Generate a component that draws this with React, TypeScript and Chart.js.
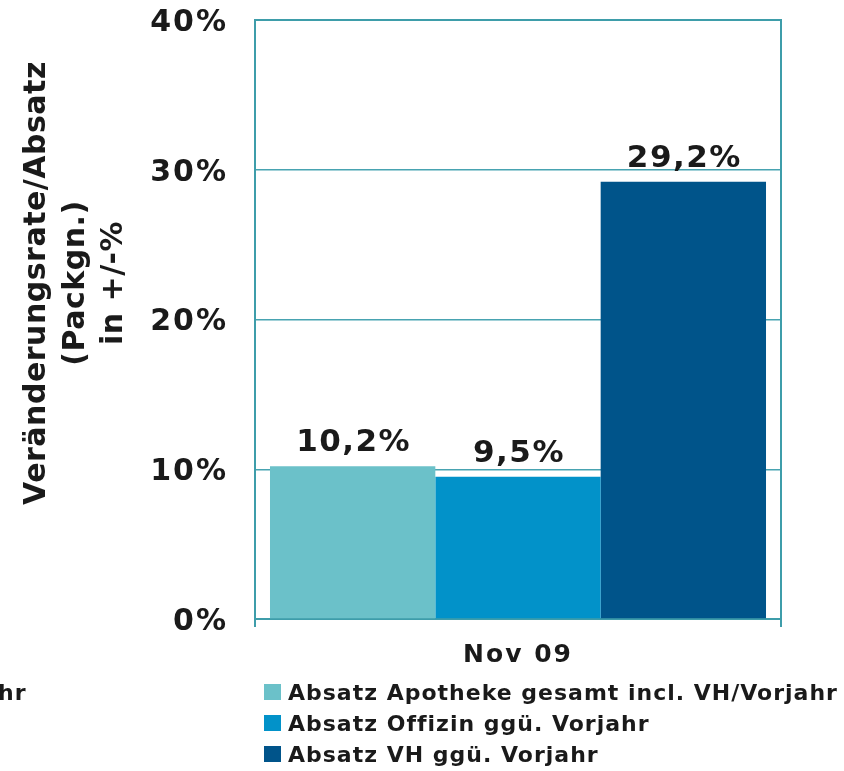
import React, { useEffect, useRef } from "react";
import { Chart, registerables } from "chart.js";

Chart.register(...registerables);

const categories = ["Nov 09"];
const seriesNames = [
  "Absatz Apotheke gesamt incl. VH/Vorjahr",
  "Absatz Offizin ggü. Vorjahr",
  "Absatz VH ggü. Vorjahr",
];
const seriesApotheke = [10.2];
const seriesOffizin = [9.5];
const seriesVH = [29.2];
const seriesColors = ["#6BC1C9", "#0292C9", "#00548A"];
const yTickValues = [0, 10, 20, 30, 40];
const yTitleLines = ["Veränderungsrate/Absatz", "(Packgn.)", "in +/-%"];
const cutOffLegendText = "hr";

const FONT = "'DejaVu Sans', Verdana, sans-serif";
const TEAL = "#3E9DAA";
const GRID = "#47A3B1";
const TEXT = "#1a1a1a";

const fmt = (v: number) => v.toFixed(1).replace(".", ",") + "%";

const decorPlugin = {
  id: "decor",
  beforeDraw(chart: any) {
    (chart.ctx as any).letterSpacing = "2px";
  },
  beforeDatasetsDraw(chart: any) {
    const { ctx, chartArea } = chart;
    ctx.save();
    ctx.strokeStyle = TEAL;
    ctx.lineWidth = 2;
    ctx.beginPath();
    ctx.moveTo(chartArea.left, chartArea.top);
    ctx.lineTo(chartArea.right, chartArea.top);
    ctx.lineTo(chartArea.right, chartArea.bottom);
    ctx.stroke();
    ctx.restore();
  },
  afterDraw(chart: any) {
    const { ctx } = chart;
    ctx.save();
    // value labels
    ctx.fillStyle = TEXT;
    ctx.letterSpacing = "1.5px";
    ctx.font = `bold 31px ${FONT}`;
    ctx.textAlign = "center";
    ctx.textBaseline = "alphabetic";
    chart.data.datasets.forEach((ds: any, i: number) => {
      const meta = chart.getDatasetMeta(i);
      meta.data.forEach((bar: any, j: number) => {
        ctx.fillText(fmt(ds.data[j]), bar.x + 1, bar.y - 15);
      });
    });

    // y title (rotated)
    ctx.letterSpacing = "0.5px";
    ctx.font = `bold 30px ${FONT}`;
    const baselines = [45, 84, 122];
    yTitleLines.forEach((line, i) => {
      ctx.save();
      ctx.translate(baselines[i], 283);
      ctx.rotate(-Math.PI / 2);
      ctx.textAlign = "center";
      ctx.textBaseline = "alphabetic";
      ctx.fillText(line, 0, 0);
      ctx.restore();
    });

    // legend
    ctx.letterSpacing = "1px";
    ctx.font = `bold 22px ${FONT}`;
    ctx.textAlign = "left";
    ctx.textBaseline = "alphabetic";
    const rows = [692, 723, 754];
    chart.data.datasets.forEach((ds: any, i: number) => {
      const c = rows[i];
      ctx.fillStyle = ds.backgroundColor;
      ctx.fillRect(264, c - 8, 17, 16);
      ctx.fillStyle = TEXT;
      ctx.fillText(ds.label, 288, c + 8);
    });
    // cut-off legend remnant at left edge
    ctx.fillText(cutOffLegendText, -2, rows[0] + 8);
    ctx.restore();
  },
};

export default function App() {
  const ref = useRef<HTMLCanvasElement | null>(null);
  useEffect(() => {
    if (!ref.current) return;
    const chart = new Chart(ref.current, {
      type: "bar",
      data: {
        labels: categories,
        datasets: [
          { label: seriesNames[0], data: seriesApotheke, backgroundColor: seriesColors[0] },
          { label: seriesNames[1], data: seriesOffizin, backgroundColor: seriesColors[1] },
          { label: seriesNames[2], data: seriesVH, backgroundColor: seriesColors[2] },
        ],
      },
      options: {
        animation: false,
        responsive: true,
        maintainAspectRatio: false,
        layout: { padding: { left: 0, right: 63, top: 20, bottom: 0 } },
        datasets: { bar: { categoryPercentage: 0.943, barPercentage: 1, borderWidth: 0 } } as any,
        plugins: {
          legend: { display: false },
          tooltip: { enabled: false },
          title: { display: false },
        },
        scales: {
          x: {
            grid: {
              offset: true,
              drawOnChartArea: false,
              drawTicks: true,
              tickLength: 8,
              color: TEAL,
              lineWidth: 2,
            },
            border: { display: true, color: TEAL, width: 2 },
            ticks: {
              font: { family: FONT, weight: "bold", size: 25 },
              color: TEXT,
              padding: 13,
            },
            afterFit: (scale: any) => {
              scale.height = 152;
              scale.paddingLeft = 0;
              scale.paddingRight = 0;
            },
          },
          y: {
            min: 0,
            max: 40,
            afterBuildTicks: (scale: any) => {
              scale.ticks = yTickValues.map((v) => ({ value: v }));
            },
            grid: { color: GRID, lineWidth: 1.5, drawTicks: false },
            border: { display: true, color: TEAL, width: 2 },
            ticks: {
              font: { family: FONT, weight: "bold", size: 30 },
              color: TEXT,
              padding: 27,
              labelOffset: 3,
              callback: (v: any) => `${v}%`,
            },
            afterFit: (scale: any) => {
              scale.width = 255;
              scale.paddingTop = 0;
              scale.paddingBottom = 0;
            },
          },
        },
      },
      plugins: [decorPlugin],
    });
    return () => chart.destroy();
  }, []);
  return (
    <div style={{ position: "absolute", left: 0, top: 0, width: 844, height: 771, background: "#fff" }}>
      <canvas ref={ref} />
    </div>
  );
}
